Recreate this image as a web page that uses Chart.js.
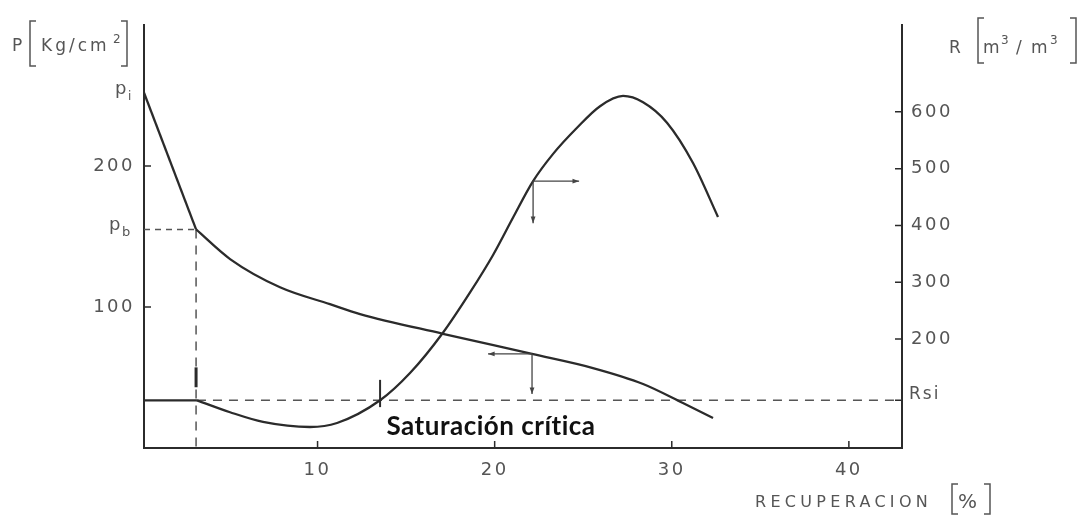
<!DOCTYPE html>
<html>
<head>
<meta charset="utf-8">
<script src="https://cdn.jsdelivr.net/npm/chart.js@4"></script>
<style>
  body { margin: 0; background: #fff; }
  #caja { width: 1081px; height: 518px; position: relative; }
</style>
</head>
<body>
<div id="caja"><canvas id="grafico"></canvas></div>
<script>
// datos
const recuperacionP = [0.2, 3.14, 5.06, 7.88, 10.7, 12.4, 17.08, 22.11, 25.55, 28.38, 30.63, 32.33];
const presion = [252, 155, 134, 114, 102, 95, 81, 66.7, 56.7, 45.4, 31.9, 21.3];

const recuperacionR = [0.2, 3.19, 5.06, 6.92, 9.57, 11.1, 13.53, 15.22, 17.08, 18.61, 19.91, 21.04, 22.17, 23.3, 24.65, 25.95, 27.25, 28.38, 29.73, 31.2, 32.61];
const relacionGP = [92, 92, 71, 54, 45, 52, 92, 140, 211, 282, 348, 414, 478, 526, 572, 610, 628, 617, 581, 510, 415];

const rsi = 92;
const pi = presion[0];
const pb = presion[1];
const xPb = recuperacionP[1];

const ticksX = [10, 20, 30, 40];
const ticksP = [100, 200];
const ticksR = [200, 300, 400, 500, 600];

const gris = '#555';
const negro = '#2b2b2b';
const fuente = '"DejaVu Sans", sans-serif';

function puntos(xs, ys, desde, hasta) {
  return xs.slice(desde, hasta).map((x, i) => ({ x: x, y: ys[desde + i] }));
}

// espaciado ancho para los numeros de los ejes
const espaciado = {
  id: 'espaciado',
  beforeDraw(chart) { chart.ctx.letterSpacing = '2.5px'; },
  afterDraw(chart) { chart.ctx.letterSpacing = '0px'; }
};

// dibuja rayitas, flechas y textos extra
const anotaciones = {
  id: 'anotaciones',
  afterDraw(chart) {
    const ctx = chart.ctx;
    const sx = chart.scales.x, sp = chart.scales.y, sr = chart.scales.y1;
    const area = chart.chartArea;
    ctx.save();
    ctx.letterSpacing = '0px';

    // marcas de los ejes hacia adentro
    ctx.strokeStyle = negro;
    ctx.lineWidth = 1.5;
    ctx.beginPath();
    ticksX.forEach(v => {
      const px = sx.getPixelForValue(v);
      ctx.moveTo(px, area.bottom); ctx.lineTo(px, area.bottom - 7);
    });
    ticksP.forEach(v => {
      const py = sp.getPixelForValue(v);
      ctx.moveTo(area.left, py); ctx.lineTo(area.left + 7, py);
    });
    ticksR.concat([rsi]).forEach(v => {
      const py = sr.getPixelForValue(v);
      ctx.moveTo(area.right, py); ctx.lineTo(area.right - 7, py);
    });
    ctx.stroke();

    // rayitas verticales sobre la curva R
    ctx.lineWidth = 3;
    ctx.beginPath();
    ctx.moveTo(sx.getPixelForValue(xPb), sr.getPixelForValue(115));
    ctx.lineTo(sx.getPixelForValue(xPb), sr.getPixelForValue(150));
    ctx.stroke();
    ctx.lineWidth = 2;
    ctx.beginPath();
    ctx.moveTo(sx.getPixelForValue(13.53), sr.getPixelForValue(80));
    ctx.lineTo(sx.getPixelForValue(13.53), sr.getPixelForValue(128));
    ctx.stroke();

    // flechas
    function flecha(x0, y0, x1, y1) {
      const ang = Math.atan2(y1 - y0, x1 - x0);
      ctx.beginPath();
      ctx.moveTo(x0, y0); ctx.lineTo(x1, y1);
      ctx.stroke();
      ctx.beginPath();
      ctx.moveTo(x1, y1);
      ctx.lineTo(x1 - 7 * Math.cos(ang - 0.35), y1 - 7 * Math.sin(ang - 0.35));
      ctx.lineTo(x1 - 7 * Math.cos(ang + 0.35), y1 - 7 * Math.sin(ang + 0.35));
      ctx.closePath();
      ctx.fill();
    }
    ctx.lineWidth = 1.3;
    ctx.strokeStyle = '#444';
    ctx.fillStyle = '#444';
    let ax = sx.getPixelForValue(22.17), ay = sr.getPixelForValue(478);
    flecha(ax, ay, ax + 46, ay);
    flecha(ax, ay, ax, ay + 42);
    ax = sx.getPixelForValue(22.11); ay = sp.getPixelForValue(66.7);
    flecha(ax, ay, ax - 44, ay);
    flecha(ax, ay, ax, ay + 40);

    // etiquetas pi, pb, Rsi
    ctx.fillStyle = gris;
    ctx.font = '18px ' + fuente;
    ctx.textBaseline = 'middle';
    ctx.textAlign = 'left';
    let py = sp.getPixelForValue(pi);
    ctx.fillText('p', 115, py - 3);
    ctx.font = '12px ' + fuente;
    ctx.fillText('i', 128, py + 4);
    py = sp.getPixelForValue(pb);
    ctx.font = '18px ' + fuente;
    ctx.fillText('p', 109, py - 4);
    ctx.font = '13px ' + fuente;
    ctx.fillText('b', 122, py + 3);
    ctx.font = '17px ' + fuente;
    ctx.letterSpacing = '2px';
    ctx.fillText('Rsi', 909, sr.getPixelForValue(rsi) - 6);
    ctx.letterSpacing = '0px';

    // titulos de ejes
    function corchete(x, y0, y1, dir) {
      ctx.beginPath();
      ctx.moveTo(x + 6 * dir, y0); ctx.lineTo(x, y0); ctx.lineTo(x, y1); ctx.lineTo(x + 6 * dir, y1);
      ctx.stroke();
    }
    ctx.strokeStyle = gris;
    ctx.lineWidth = 1.5;
    ctx.textBaseline = 'alphabetic';
    ctx.font = '17px ' + fuente;
    ctx.fillText('P', 12, 51);
    corchete(30, 21, 66, 1);
    ctx.letterSpacing = '3px';
    ctx.fillText('Kg/cm', 41, 51);
    ctx.letterSpacing = '0px';
    ctx.font = '12px ' + fuente;
    ctx.fillText('2', 113, 43);
    corchete(127, 21, 66, -1);

    ctx.font = '17px ' + fuente;
    ctx.fillText('R', 949, 53);
    corchete(978, 18, 63, 1);
    ctx.fillText('m', 983, 53);
    ctx.fillText('/', 1016, 53);
    ctx.fillText('m', 1031, 53);
    ctx.font = '12px ' + fuente;
    ctx.fillText('3', 1001, 44);
    ctx.fillText('3', 1050, 44);
    corchete(1076, 18, 63, -1);

    ctx.font = '16px ' + fuente;
    ctx.letterSpacing = '4.3px';
    ctx.fillText('RECUPERACION', 755, 507);
    ctx.letterSpacing = '0px';
    corchete(952, 484, 514, 1);
    ctx.font = '20px ' + fuente;
    ctx.fillText('%', 958, 508);
    corchete(990, 484, 514, -1);

    // texto agregado
    ctx.fillStyle = '#111';
    ctx.font = 'bold 26px Lato, sans-serif';
    ctx.letterSpacing = '0.5px';
    ctx.textAlign = 'center';
    ctx.textBaseline = 'middle';
    ctx.fillText('Saturación crítica', 491, 427);
    ctx.letterSpacing = '0px';

    ctx.restore();
  }
};

const linea = { borderColor: negro, borderWidth: 2.3, pointRadius: 0 };
const curva = Object.assign({ cubicInterpolationMode: 'monotone' }, linea);
const discontinua = { borderColor: gris, borderWidth: 1.5, pointRadius: 0, borderDash: [9, 7] };

const ctx = document.getElementById('grafico').getContext('2d');
const grafico = new Chart(ctx, {
  type: 'line',
  data: {
    datasets: [
      Object.assign({ label: 'P hasta pb', yAxisID: 'y',
        data: puntos(recuperacionP, presion, 0, 2) }, linea),
      Object.assign({ label: 'P', yAxisID: 'y',
        data: puntos(recuperacionP, presion, 1) }, curva),
      Object.assign({ label: 'R hasta pb', yAxisID: 'y1',
        data: puntos(recuperacionR, relacionGP, 0, 2) }, linea),
      Object.assign({ label: 'R', yAxisID: 'y1',
        data: puntos(recuperacionR, relacionGP, 1) }, curva),
      Object.assign({ label: 'Rsi', yAxisID: 'y1',
        data: [{ x: recuperacionR[1], y: rsi }, { x: 43, y: rsi }] }, discontinua),
      Object.assign({ label: 'pb horizontal', yAxisID: 'y',
        data: [{ x: 0.2, y: pb }, { x: xPb, y: pb }] }, discontinua, { borderDash: [6, 5] }),
      Object.assign({ label: 'pb vertical', yAxisID: 'y',
        data: [{ x: xPb, y: pb }, { x: xPb, y: 0 }] }, discontinua)
    ]
  },
  options: {
    responsive: true,
    maintainAspectRatio: false,
    animation: false,
    layout: { padding: { top: 25 } },
    plugins: {
      legend: { display: false },
      tooltip: { enabled: false }
    },
    scales: {
      x: {
        type: 'linear',
        min: 0.2,
        max: 43,
        afterFit(s) { s.height = 70; },
        afterBuildTicks(s) { s.ticks = ticksX.map(v => ({ value: v })); },
        grid: { display: false, drawTicks: false },
        border: { display: true, color: negro, width: 2 },
        ticks: { color: gris, padding: 12, font: { family: fuente, size: 18 } }
      },
      y: {
        position: 'left',
        min: 0,
        max: 300,
        afterFit(s) { s.width = 144; },
        afterBuildTicks(s) { s.ticks = ticksP.map(v => ({ value: v })); },
        grid: { display: false, drawTicks: false },
        border: { display: true, color: negro, width: 2 },
        ticks: { color: gris, padding: 9, font: { family: fuente, size: 18 } }
      },
      y1: {
        position: 'right',
        min: 8,
        max: 753,
        afterFit(s) { s.width = 179; },
        afterBuildTicks(s) { s.ticks = ticksR.map(v => ({ value: v })); },
        grid: { display: false, drawTicks: false },
        border: { display: true, color: negro, width: 2 },
        ticks: { color: gris, padding: 9, font: { family: fuente, size: 18 } }
      }
    }
  },
  plugins: [espaciado, anotaciones]
});
</script>
</body>
</html>
